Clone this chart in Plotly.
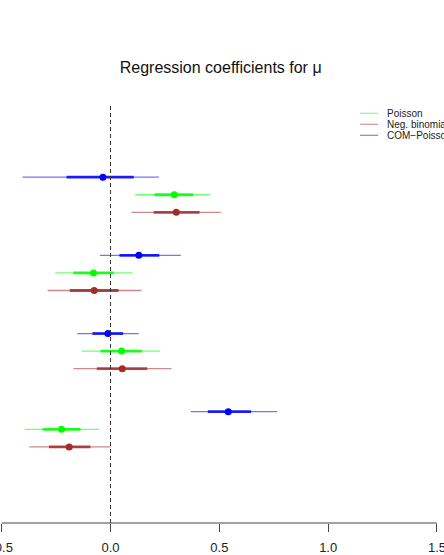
import plotly.graph_objects as go

# ---- data ----
coef_groups = [4, 3, 2, 1]          # four coefficients, top to bottom
models = ["Poisson", "Neg. binomial", "COM\u2212Poisson"]

poisson_est  = [0.293, -0.078, 0.051, -0.225]
poisson_lo95 = [0.113, -0.254, -0.133, -0.395]
poisson_hi95 = [0.458, 0.101, 0.227, -0.052]
poisson_lo50 = [0.202, -0.171, -0.046, -0.312]
poisson_hi50 = [0.380, 0.015, 0.144, -0.138]

negbin_est  = [0.302, -0.075, 0.054, -0.190]
negbin_lo95 = [0.096, -0.289, -0.171, -0.374]
negbin_hi95 = [0.507, 0.142, 0.280, 0.000]
negbin_lo50 = [0.198, -0.187, -0.063, -0.283]
negbin_hi50 = [0.409, 0.037, 0.169, -0.092]

com_est  = [-0.035, 0.130, -0.012, 0.541]
com_lo95 = [-0.404, -0.049, -0.153, 0.369]
com_hi95 = [0.222, 0.323, 0.130, 0.766]
com_lo50 = [-0.202, 0.041, -0.083, 0.447]
com_hi50 = [0.107, 0.224, 0.058, 0.646]

x_tickvals = [-0.5, 0.0, 0.5, 1.0, 1.5]
x_ticktext = ["-0.5", "0.0", "0.5", "1.0", "1.5"]

# ---- styles ----
series = [
    dict(name=models[0], est=poisson_est, lo95=poisson_lo95, hi95=poisson_hi95,
         lo50=poisson_lo50, hi50=poisson_hi50, rgb=(0, 255, 0), off=0.0),
    dict(name=models[1], est=negbin_est, lo95=negbin_lo95, hi95=negbin_hi95,
         lo50=negbin_lo50, hi50=negbin_hi50, rgb=(165, 42, 42), off=-0.225),
    dict(name=models[2], est=com_est, lo95=com_lo95, hi95=com_hi95,
         lo50=com_lo50, hi50=com_hi50, rgb=(0, 0, 255), off=0.225),
]

def rgba(rgb, a):
    return "rgba(%d,%d,%d,%.2f)" % (rgb[0], rgb[1], rgb[2], a)

fig = go.Figure()

for s in series:
    ys = [g + s["off"] for g in coef_groups]
    xo, yo, xi, yi = [], [], [], []
    for k in range(len(ys)):
        xo += [s["lo95"][k], s["hi95"][k], None]
        yo += [ys[k], ys[k], None]
        xi += [s["lo50"][k], s["hi50"][k], None]
        yi += [ys[k], ys[k], None]
    fig.add_trace(go.Scatter(x=xo, y=yo, mode="lines", showlegend=False,
                             line=dict(color=rgba(s["rgb"], 0.55), width=1.3),
                             hoverinfo="skip"))
    fig.add_trace(go.Scatter(x=xi, y=yi, mode="lines", showlegend=False,
                             line=dict(color=rgba(s["rgb"], 0.85), width=2.8),
                             hoverinfo="skip"))
    fig.add_trace(go.Scatter(x=s["est"], y=ys, mode="markers", showlegend=False,
                             marker=dict(color=rgba(s["rgb"], 1.0), size=7,
                                         line=dict(width=0)),
                             name=s["name"]))

W, H = 444, 555
T, B = 103, 32
PH = H - T - B

def py(ypx):
    # figure pixel row -> paper fraction of the plot area
    return (H - B - ypx) / PH

# dashed reference line at zero
fig.add_shape(type="line", xref="x", yref="paper", x0=0, x1=0, y0=0, y1=1,
              line=dict(color="#333333", width=1, dash="4px,3px"))
# axis line between first and last tick
fig.add_shape(type="line", xref="x", yref="paper", x0=x_tickvals[0], x1=x_tickvals[-1],
              y0=0, y1=0, line=dict(color="#444444", width=1))

# manual legend
leg_rows = [(series[0], 113.3), (series[1], 124.3), (series[2], 135.3)]
for s, ypx in leg_rows:
    yp = py(ypx)
    fig.add_shape(type="line", xref="paper", yref="paper",
                  x0=360 / W, x1=378 / W, y0=yp, y1=yp,
                  line=dict(color=rgba(s["rgb"], 0.5), width=1.2))
    fig.add_annotation(xref="paper", yref="paper", x=385 / W, y=yp, text=s["name"],
                       showarrow=False, xanchor="left", yanchor="middle",
                       font=dict(size=10, color="#222222",
                                 family="Liberation Sans, Arial, sans-serif"))

fig.update_layout(
    width=W, height=H,
    margin=dict(l=0, r=0, t=T, b=B, autoexpand=False),
    paper_bgcolor="white", plot_bgcolor="white",
    showlegend=False,
    font=dict(family="Liberation Sans, Arial, sans-serif", color="#222222"),
    title=dict(text="Regression coefficients for \u03bc", x=0.497, xanchor="center",
               y=1 - 67 / H, yanchor="middle", yref="container",
               font=dict(size=16, color="#111111")),
    xaxis=dict(range=[-0.5078, 1.5322], showgrid=False, zeroline=False, showline=False,
               tickvals=x_tickvals, ticktext=x_ticktext, ticks="outside",
               ticklen=8, tickcolor="#444444", tickwidth=1,
               tickfont=dict(size=13, color="#222222"), ticklabelstandoff=4,
               ticklabeloverflow="allow", automargin=False),
    yaxis=dict(range=[-0.198, 5.173], showgrid=False, zeroline=False, showline=False,
               showticklabels=False, ticks="", automargin=False),
)

fig.write_html("out.html")
